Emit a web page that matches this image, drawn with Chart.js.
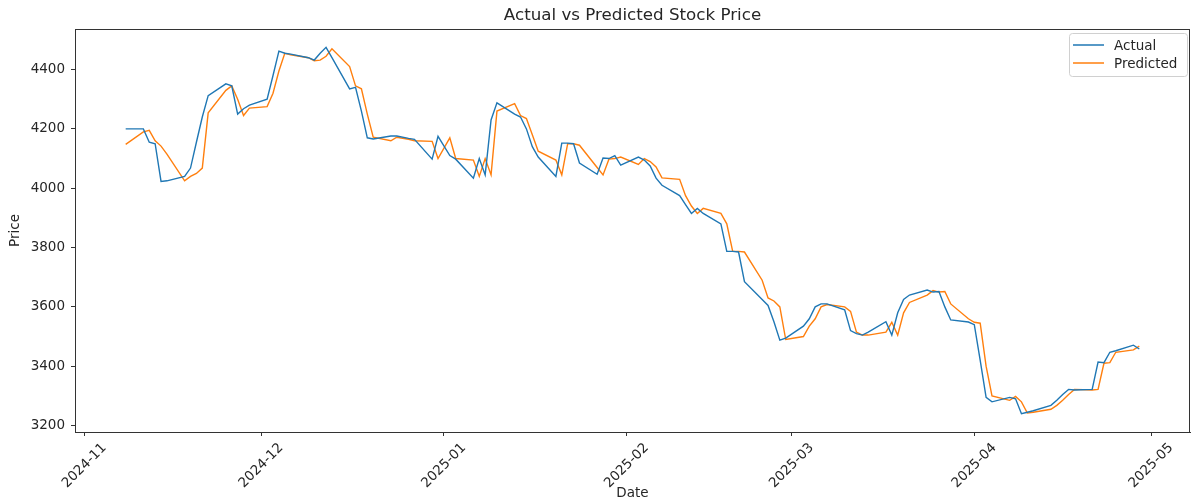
<!DOCTYPE html>
<html>
<head>
<meta charset="utf-8">
<script src="https://cdn.jsdelivr.net/npm/chart.js@4.4.1/dist/chart.umd.min.js"></script>
<style>
  body { margin: 0; background: #fff; }
  canvas { display: block; }
</style>
</head>
<body>
<canvas id="stockChart" width="1192" height="502"></canvas>
<script>
const dates = [
  "2024-11-08", "2024-11-11", "2024-11-12", "2024-11-13", "2024-11-14", "2024-11-15", "2024-11-18", "2024-11-19",
  "2024-11-20", "2024-11-21", "2024-11-22", "2024-11-25", "2024-11-26", "2024-11-27", "2024-11-28", "2024-11-29",
  "2024-12-02", "2024-12-03", "2024-12-04", "2024-12-05", "2024-12-06", "2024-12-09", "2024-12-10", "2024-12-11",
  "2024-12-12", "2024-12-13", "2024-12-16", "2024-12-17", "2024-12-18", "2024-12-19", "2024-12-20", "2024-12-23",
  "2024-12-24", "2024-12-26", "2024-12-27", "2024-12-30", "2024-12-31",
  "2025-01-02", "2025-01-03", "2025-01-06", "2025-01-07", "2025-01-08", "2025-01-09", "2025-01-10", "2025-01-13",
  "2025-01-14", "2025-01-15", "2025-01-16", "2025-01-17", "2025-01-20", "2025-01-21", "2025-01-22", "2025-01-23",
  "2025-01-24", "2025-01-27", "2025-01-28", "2025-01-29", "2025-01-30", "2025-01-31",
  "2025-02-03", "2025-02-04", "2025-02-05", "2025-02-06", "2025-02-07", "2025-02-10", "2025-02-11", "2025-02-12",
  "2025-02-13", "2025-02-14", "2025-02-17", "2025-02-18", "2025-02-19", "2025-02-20", "2025-02-21", "2025-02-24",
  "2025-02-25", "2025-02-26", "2025-02-27", "2025-02-28",
  "2025-03-03", "2025-03-04", "2025-03-05", "2025-03-06", "2025-03-07", "2025-03-10", "2025-03-11", "2025-03-12",
  "2025-03-13", "2025-03-14", "2025-03-17", "2025-03-18", "2025-03-19", "2025-03-20", "2025-03-21", "2025-03-24",
  "2025-03-25", "2025-03-26", "2025-03-27", "2025-03-28", "2025-03-31",
  "2025-04-01", "2025-04-02", "2025-04-03", "2025-04-04", "2025-04-07", "2025-04-08", "2025-04-09", "2025-04-10",
  "2025-04-11", "2025-04-14", "2025-04-15", "2025-04-16", "2025-04-17", "2025-04-18", "2025-04-21", "2025-04-22",
  "2025-04-23", "2025-04-24", "2025-04-25", "2025-04-28", "2025-04-29"
];

const actual = [
  // Nov
  4200, 4200, 4155, 4150, 4023, 4025, 4040, 4068, 4155, 4240, 4312, 4352, 4345, 4250, 4268, 4280,
  // Dec
  4300, 4380, 4462, 4455, 4452, 4440, 4432, 4455, 4475, 4440, 4335, 4340, 4260, 4170, 4166, 4176,
  4176, 4168, 4165, 4098, 4175,
  // Jan
  4110, 4098, 4034, 4100, 4045, 4230, 4288, 4250, 4240, 4200, 4140, 4105, 4040, 4152, 4152, 4150,
  4085, 4047, 4102, 4100, 4110, 4078,
  // Feb
  4105, 4095, 4075, 4034, 4010, 3975, 3945, 3915, 3932, 3915, 3880, 3787, 3787, 3785, 3685, 3625,
  3605, 3550, 3488, 3495,
  // Mar
  3535, 3560, 3600, 3610, 3610, 3590, 3520, 3510, 3505, 3515, 3550, 3505, 3580, 3625, 3640, 3657,
  3650, 3652, 3600, 3556, 3549,
  // Apr
  3540, 3420, 3295, 3280, 3295, 3290, 3240, 3245, 3250, 3268, 3285, 3305, 3322, 3320, 3322, 3414,
  3412, 3447, 3452, 3471, 3458
];

const predicted = [
  // Nov
  4148, 4190, 4195, 4160, 4142, 4115, 4025, 4040, 4050, 4068, 4254, 4330, 4345, 4300, 4245, 4270,
  // Dec
  4275, 4320, 4395, 4455, 4450, 4440, 4430, 4432, 4445, 4470, 4410, 4345, 4335, 4250, 4172, 4160,
  4172, 4165, 4160, 4158, 4100,
  // Jan
  4170, 4100, 4095, 4040, 4100, 4045, 4260, 4285, 4245, 4235, 4180, 4125, 4095, 4045, 4150, 4150,
  4145, 4070, 4045, 4098, 4100, 4105,
  // Feb
  4080, 4100, 4090, 4072, 4035, 4030, 3975, 3940, 3915, 3932, 3915, 3880, 3787, 3787, 3785, 3690,
  3630, 3620, 3600, 3490,
  // Mar
  3500, 3535, 3560, 3600, 3608, 3600, 3585, 3515, 3505, 3505, 3515, 3548, 3505, 3580, 3615, 3640,
  3655, 3650, 3652, 3610, 3560,
  // Apr
  3548, 3545, 3400, 3300, 3285, 3298, 3280, 3242, 3245, 3255, 3268, 3285, 3305, 3322, 3320, 3322,
  3410, 3412, 3447, 3455, 3468
];

const xTickLabels = ["2024-11", "2024-12", "2025-01", "2025-02", "2025-03", "2025-04", "2025-05"];
const yTicks = [3200, 3400, 3600, 3800, 4000, 4200, 4400];
const seriesNames = ["Actual", "Predicted"];
const seriesColors = ["#1f77b4", "#ff7f0e"];

// days since 2024-11-01, used as the x value (no date adapter available)
const base = Date.UTC(2024, 10, 1);
function dayOf(s) {
  const p = s.split("-").map(Number);
  return (Date.UTC(p[0], p[1] - 1, p[2] || 1) - base) / 86400000;
}

const xs = dates.map(dayOf);
const xTickVals = xTickLabels.map(dayOf);

// matplotlib-like 5% margins
const xSpan = xs[xs.length - 1] - xs[0];
const allY = actual.concat(predicted);
const yMinData = Math.min(...allY);
const yMaxData = Math.max(...allY);
const ySpan = yMaxData - yMinData;

const FONT = "'DejaVu Sans', sans-serif";
const INK = "#262626";
const TICK_SIZE = 13.5;

const framePlugin = {
  id: "framePlugin",
  afterDraw(chart) {
    const { ctx, chartArea: a } = chart;
    const xScale = chart.scales.x;
    ctx.save();
    ctx.strokeStyle = "#333";
    ctx.lineWidth = 1;
    ctx.strokeRect(Math.round(a.left) + 0.5, Math.round(a.top) + 0.5,
      Math.round(a.right - a.left) - 1, Math.round(a.bottom - a.top));

    // x tick labels, rotated 45deg and centred under the tick (matplotlib style)
    ctx.fillStyle = INK;
    ctx.font = TICK_SIZE + "px " + FONT;
    ctx.textAlign = "center";
    ctx.textBaseline = "middle";
    xTickVals.forEach((v, i) => {
      const w = ctx.measureText(xTickLabels[i]).width;
      const half = (w + TICK_SIZE) * Math.SQRT1_2 / 2;
      ctx.save();
      ctx.translate(xScale.getPixelForValue(v), a.bottom + 9 + half);
      ctx.rotate(-Math.PI / 4);
      ctx.fillText(xTickLabels[i], 0, 0);
      ctx.restore();
    });

    ctx.font = "16.7px " + FONT;
    ctx.fillText("Actual vs Predicted Stock Price", (a.left + a.right) / 2, 16);

    ctx.font = TICK_SIZE + "px " + FONT;
    ctx.fillText("Date", (a.left + a.right) / 2, 493);

    ctx.save();
    ctx.translate(15, (a.top + a.bottom) / 2);
    ctx.rotate(-Math.PI / 2);
    ctx.fillText("Price", 0, 0);
    ctx.restore();

    // legend box, top right like matplotlib
    const bx = a.right - 121, by = a.top + 4, bw = 118, bh = 43;
    ctx.fillStyle = "rgba(255,255,255,0.8)";
    ctx.strokeStyle = "#d0d0d0";
    ctx.beginPath();
    ctx.roundRect(bx + 0.5, by + 0.5, bw, bh, 3);
    ctx.fill();
    ctx.stroke();
    seriesNames.forEach((name, i) => {
      const ly = by + 12 + i * 18;
      ctx.strokeStyle = seriesColors[i];
      ctx.lineWidth = 1.5;
      ctx.beginPath();
      ctx.moveTo(bx + 4, ly);
      ctx.lineTo(bx + 35, ly);
      ctx.stroke();
      ctx.fillStyle = INK;
      ctx.textAlign = "left";
      ctx.font = TICK_SIZE + "px " + FONT;
      ctx.fillText(name, bx + 45, ly + 1);
    });
    ctx.restore();
  }
};

const ctx = document.getElementById("stockChart");
const stockChart = new Chart(ctx, {
  type: "line",
  data: {
    datasets: [
      {
        label: seriesNames[0],
        data: xs.map((x, i) => ({ x: x, y: actual[i] })),
        borderColor: seriesColors[0],
        borderWidth: 1.4,
        pointRadius: 0,
        tension: 0,
        fill: false,
      },
      {
        label: seriesNames[1],
        data: xs.map((x, i) => ({ x: x, y: predicted[i] })),
        borderColor: seriesColors[1],
        borderWidth: 1.4,
        pointRadius: 0,
        tension: 0,
        fill: false,
      },
    ],
  },
  options: {
    responsive: false,
    animation: false,
    devicePixelRatio: 1,
    layout: { padding: { top: 29, right: 2, left: 0, bottom: 0 } },
    scales: {
      x: {
        type: "linear",
        min: xs[0] - xSpan * 0.05,
        max: xs[xs.length - 1] + xSpan * 0.05,
        afterBuildTicks: (s) => { s.ticks = xTickVals.map((v) => ({ value: v })); },
        afterFit: (s) => { s.height = 70; },
        ticks: { display: false, autoSkip: false },
        grid: { drawOnChartArea: false, tickLength: 4, color: "#333" },
        border: { color: "#333" },
      },
      y: {
        min: yMinData - ySpan * 0.05,
        max: yMaxData + ySpan * 0.05,
        afterBuildTicks: (s) => { s.ticks = yTicks.map((v) => ({ value: v })); },
        afterFit: (s) => { s.width = 75; },
        ticks: {
          padding: 6,
          color: INK,
          font: { family: FONT, size: TICK_SIZE },
          callback: function (value) {
            return String(value);
          },
        },
        grid: { drawOnChartArea: false, tickLength: 4, color: "#333" },
        border: { color: "#333" },
      },
    },
    plugins: {
      legend: { display: false },
      tooltip: { enabled: false },
    },
  },
  plugins: [framePlugin],
});
</script>
</body>
</html>
